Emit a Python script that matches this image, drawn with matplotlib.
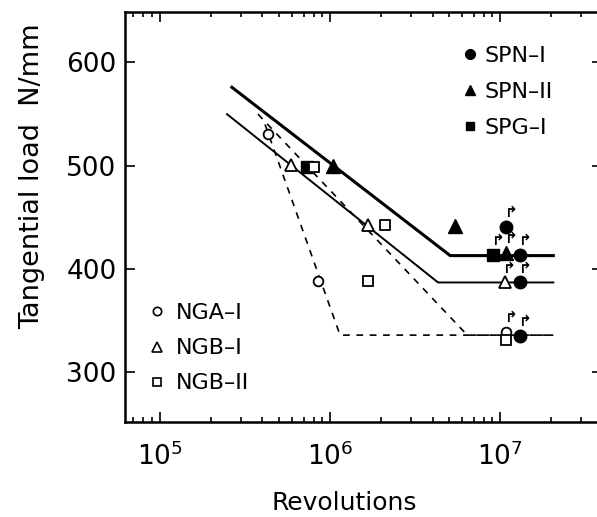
import matplotlib
matplotlib.use("Agg")
import matplotlib.pyplot as plt
from matplotlib.lines import Line2D

# Measured points (revolutions, tangential load N/mm)
spn1_x = [1.08e7, 1.31e7, 1.30e7, 1.30e7]
spn1_y = [441, 414, 387, 335]
spn2_x = [1.04e6, 5.43e6, 1.08e7]
spn2_y = [500, 442, 416]
spg1_x = [7.33e5, 9.1e6]
spg1_y = [499, 414]
nga1_x = [4.31e5, 8.5e5, 1.08e7]
nga1_y = [531, 388, 339]
ngb1_x = [5.9e5, 1.67e6, 1.06e7]
ngb1_y = [501, 443, 387]
ngb2_x = [8.06e5, 2.11e6, 1.67e6, 1.08e7]
ngb2_y = [499, 443, 388, 331]

# Run-outs (no failure), marked with a bent arrow
runout_x = [1.08e7, 1.31e7, 1.30e7, 1.30e7, 1.08e7, 9.1e6, 1.06e7, 1.08e7]
runout_y = [441, 414, 387, 335, 416, 414, 387, 339]

# S-N curves
spn_line_x = [2.65e5, 5.08e6, 2.05e7]
spn_line_y = [576, 413, 413]
ngb1_line_x = [2.48e5, 4.31e6, 2.05e7]
ngb1_line_y = [550, 387, 387]
nga1_line_x = [4.15e5, 1.145e6, 2.05e7]
nga1_line_y = [540, 336, 336]
ngb2_line_x = [3.77e5, 6.4e6, 2.05e7]
ngb2_line_y = [550, 336, 336]

fig = plt.figure(figsize=(5.97, 5.17), dpi=100)
ax = fig.add_axes([0.209, 0.184, 0.80, 0.793])

ax.plot(spn_line_x, spn_line_y, color='k', lw=2.2)
ax.plot(ngb1_line_x, ngb1_line_y, color='k', lw=1.4)
ax.plot(nga1_line_x, nga1_line_y, color='k', lw=1.2, linestyle=(0, (4, 4)))
ax.plot(ngb2_line_x, ngb2_line_y, color='k', lw=1.2, linestyle=(0, (4, 4)))

ax.plot(spn1_x, spn1_y, 'o', color='k', ms=9)
ax.plot(spn2_x, spn2_y, '^', color='k', ms=9.5)
ax.plot(spg1_x, spg1_y, 's', color='k', ms=8)
ax.plot(nga1_x, nga1_y, 'o', mfc='white', mec='k', mew=1.3, ms=7)
ax.plot(ngb1_x, ngb1_y, '^', mfc='white', mec='k', mew=1.3, ms=8)
ax.plot(ngb2_x, ngb2_y, 's', mfc='white', mec='k', mew=1.3, ms=6.5)

for x, y in zip(runout_x, runout_y):
    ax.annotate('↱', xy=(x, y), xytext=(-1.5, 5), textcoords='offset points',
                fontsize=11, ha='left', va='bottom', fontweight='bold')

ax.set_xscale('log')
ax.set_xlim(10 ** 4.794, 10 ** 7.6)
ax.set_ylim(252, 649)
ax.set_yticks([300, 400, 500, 600])

for s in ['left', 'bottom', 'top']:
    ax.spines[s].set_linewidth(1.8)
ax.spines['right'].set_visible(False)

ax.tick_params(which='both', direction='in', top=True, right=True, width=1.2)
ax.tick_params(which='major', length=7)
ax.tick_params(which='minor', length=3.5)
ax.tick_params(axis='y', labelsize=19, pad=6)
ax.tick_params(axis='x', labelsize=19, pad=15)

ax.set_xlabel('Revolutions', fontsize=18)
ax.xaxis.set_label_coords(0.459, -0.168)
ax.set_ylabel('Tangential load  N/mm', fontsize=19.5)
ax.yaxis.set_label_coords(-0.166, 0.60)

h_solid = [
    Line2D([], [], marker='o', ls='none', color='k', ms=7),
    Line2D([], [], marker='^', ls='none', color='k', ms=7),
    Line2D([], [], marker='s', ls='none', color='k', ms=6),
]
leg1 = ax.legend(h_solid, ['SPN–I', 'SPN–II', 'SPG–I'], loc='upper left',
                 bbox_to_anchor=(0.757, 0.932), bbox_transform=fig.transFigure,
                 frameon=False, fontsize=16, handlelength=0.6,
                 handletextpad=0.35, labelspacing=0.72, borderpad=0)
ax.add_artist(leg1)

h_open = [
    Line2D([], [], marker='o', ls='none', mfc='white', mec='k', mew=1.2, ms=6),
    Line2D([], [], marker='^', ls='none', mfc='white', mec='k', mew=1.2, ms=6.5),
    Line2D([], [], marker='s', ls='none', mfc='white', mec='k', mew=1.2, ms=5.5),
]
ax.legend(h_open, ['NGA–I', 'NGB–I', 'NGB–II'], loc='upper left',
          bbox_to_anchor=(0.233, 0.435), bbox_transform=fig.transFigure,
          frameon=False, fontsize=16, handlelength=0.6,
          handletextpad=0.55, labelspacing=0.68, borderpad=0)

fig.savefig('out.png', dpi=100)
